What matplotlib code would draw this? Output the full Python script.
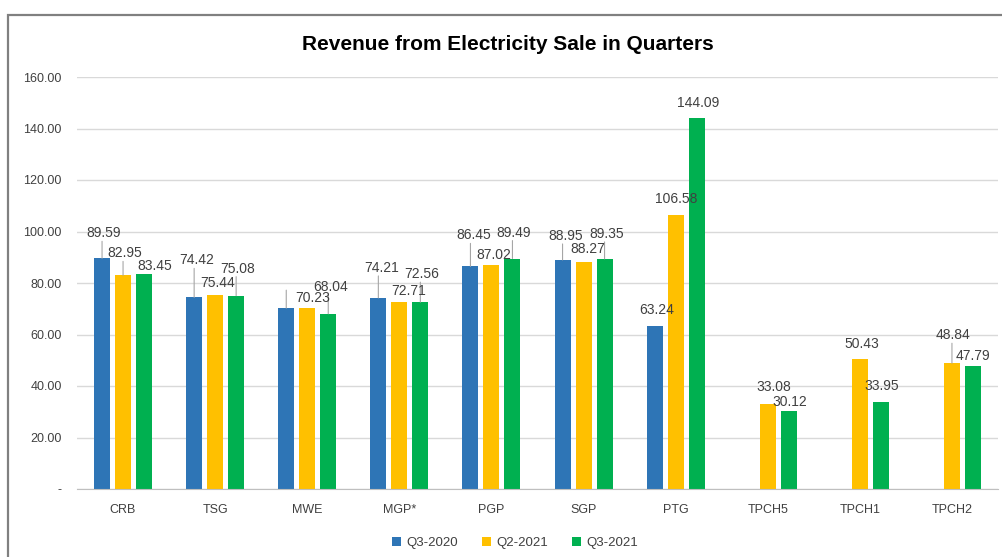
import numpy as np
import matplotlib.pyplot as plt
from matplotlib.patches import Rectangle

# chart data
categories = ['CRB', 'TSG', 'MWE', 'MGP*', 'PGP', 'SGP', 'PTG', 'TPCH5', 'TPCH1', 'TPCH2']
q3_2020 = [89.59, 74.42, 70.23, 74.21, 86.45, 88.95, 63.24, np.nan, np.nan, np.nan]
q2_2021 = [82.95, 75.44, 70.23, 72.71, 87.02, 88.27, 106.58, 33.08, 50.43, 48.84]
q3_2021 = [83.45, 75.08, 68.04, 72.56, 89.49, 89.35, 144.09, 30.12, 33.95, 47.79]
series_names = ['Q3-2020', 'Q2-2021', 'Q3-2021']
yticks = [0, 20, 40, 60, 80, 100, 120, 140, 160]

# data label offsets (pixels: dx, up) as moved by hand in the original
off_2020 = [(2, 25), (3, 37), (26, 10), (3, 30), (3, 31), (3, 24), (2, 16), None, None, None]
off_q2 = [(2, 22), (2, 12), None, (9, 11), (2, 10), (4, 13), (1, 16), (6, 17), (2, 15), (1, 28)]
off_q3 = [(11, 8), (1, 27), (2, 27), (1, 28), (1, 26), (2, 25), (1, 15), (1, 9), (1, 16), (0, 10)]

colors = ['#2E75B6', '#FFC000', '#00B050']
txt_col = '#404040'
plt.rcParams['font.family'] = ['Liberation Sans', 'DejaVu Sans']

fig = plt.figure(figsize=(10.02, 5.57), dpi=100)
ax = fig.add_axes([77 / 1002, 1 - 489 / 557, 921 / 1002, 412 / 557])

# outer chart frame
fig.patches.append(Rectangle((8 / 1002, -0.1), 1.1, 1 - 15 / 557 + 0.1,
                             transform=fig.transFigure, fill=False,
                             edgecolor='#808080', lw=1.6))

x = np.arange(len(categories))
step = 0.228
width = 0.174
all_series = [q3_2020, q2_2021, q3_2021]
all_offsets = [off_2020, off_q2, off_q3]

for k, (vals, offs) in enumerate(zip(all_series, all_offsets)):
    xs = x + (k - 1) * step
    ax.bar(xs, vals, width, color=colors[k], label=series_names[k], zorder=3)
    for xi, v, off in zip(xs, vals, offs):
        if off is None or np.isnan(v):
            continue
        dx, up = off
        lead = up - 8 if up >= 18 else (18 if dx > 15 else 0)
        if lead > 0:
            ax.annotate('', xy=(xi, v), xytext=(0, lead), textcoords='offset pixels',
                        arrowprops=dict(arrowstyle='-', color='#a6a6a6', lw=0.8,
                                        shrinkA=0, shrinkB=0), zorder=4)
        ax.annotate(f'{v:.2f}', xy=(xi, v), xytext=(dx, up), textcoords='offset pixels',
                    ha='center', va='center', fontsize=10, color=txt_col, zorder=5)

ax.set_xlim(-0.5, len(categories) - 0.5)
ax.set_ylim(0, 160)
ax.set_yticks(yticks)
ax.set_yticklabels(['-'] + [f'{t:.2f}' for t in yticks[1:]])
ax.set_xticks(x)
ax.set_xticklabels(categories)
ax.tick_params(axis='y', length=0, pad=11, labelsize=9, colors=txt_col)
ax.tick_params(axis='x', length=0, pad=11, labelsize=9, colors=txt_col)
ax.grid(axis='y', color='#d9d9d9', lw=1, zorder=0)
for s in ['top', 'right', 'left']:
    ax.spines[s].set_visible(False)
ax.spines['bottom'].set_color('#bfbfbf')
ax.spines['bottom'].set_zorder(3)

fig.text(0.507, 1 - 44 / 557, 'Revenue from Electricity Sale in Quarters',
         ha='center', va='center', fontsize=15, fontweight='bold', color='black')

fig.legend(loc='center', bbox_to_anchor=(0.514, 1 - 543 / 557), ncol=3, frameon=False,
           fontsize=9.5, handlelength=0.7, handleheight=0.7, handletextpad=0.4,
           columnspacing=1.8, labelcolor=txt_col)

fig.savefig('out.png', dpi=100)
